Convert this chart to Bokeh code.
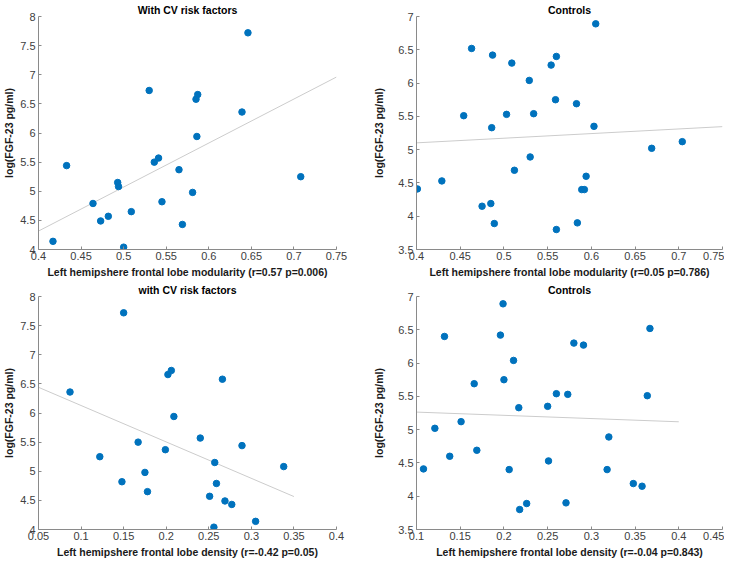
import numpy as np
from bokeh.plotting import figure
from bokeh.layouts import gridplot
from bokeh.models import Range1d, FixedTicker, CustomJSTickFormatter
from bokeh.embed import file_html
from bokeh.resources import INLINE

# ---- data: participants with CV risk factors ----
cv_fgf23 = [7.72, 6.73, 6.66, 6.58, 6.36, 5.94, 5.57, 5.50, 5.44, 5.37, 5.25,
            5.15, 5.08, 4.98, 4.82, 4.79, 4.65, 4.57, 4.49, 4.43, 4.14, 4.04]
cv_modularity = [0.646, 0.530, 0.587, 0.585, 0.639, 0.586, 0.541, 0.536, 0.433, 0.565, 0.708,
                 0.493, 0.494, 0.581, 0.545, 0.464, 0.509, 0.482, 0.473, 0.569, 0.417, 0.500]
cv_density = [0.150, 0.206, 0.202, 0.266, 0.087, 0.209, 0.240, 0.167, 0.289, 0.199, 0.122,
              0.257, 0.338, 0.175, 0.148, 0.259, 0.178, 0.251, 0.269, 0.277, 0.305, 0.256]

# ---- data: controls ----
ctrl_fgf23 = [6.89, 6.52, 6.42, 6.40, 6.30, 6.27, 6.04, 5.75, 5.69, 5.54, 5.53, 5.51, 5.35, 5.33,
              5.12, 5.02, 4.89, 4.69, 4.60, 4.53, 4.41, 4.40, 4.40, 4.19, 4.15, 3.90, 3.89, 3.80]
ctrl_modularity = [0.605, 0.463, 0.487, 0.560, 0.509, 0.554, 0.529, 0.559, 0.583, 0.534, 0.503, 0.454, 0.603, 0.486,
                   0.704, 0.669, 0.530, 0.512, 0.594, 0.429, 0.401, 0.589, 0.592, 0.485, 0.475, 0.584, 0.489, 0.560]
ctrl_density = [0.199, 0.367, 0.196, 0.132, 0.280, 0.291, 0.211, 0.200, 0.166, 0.260, 0.273, 0.364, 0.250, 0.217,
                0.151, 0.121, 0.320, 0.169, 0.138, 0.251, 0.108, 0.206, 0.318, 0.348, 0.358, 0.271, 0.226, 0.218]

# ---- fit line extents ----
fit_range_cv_mod = [0.40, 0.75]
fit_range_ctrl_mod = [0.40, 0.75]
fit_range_cv_dens = [0.05, 0.35]
fit_range_ctrl_dens = [0.10, 0.40]

# ---- ticks ----
ticks_mod = [0.40, 0.45, 0.50, 0.55, 0.60, 0.65, 0.70, 0.75]
ticks_cv_dens = [0.05, 0.10, 0.15, 0.20, 0.25, 0.30, 0.35, 0.40]
ticks_ctrl_dens = [0.10, 0.15, 0.20, 0.25, 0.30, 0.35, 0.40, 0.45]
ticks_cv_y = [4.0, 4.5, 5.0, 5.5, 6.0, 6.5, 7.0, 7.5, 8.0]
ticks_ctrl_y = [3.5, 4.0, 4.5, 5.0, 5.5, 6.0, 6.5, 7.0]

titles = ["With CV risk factors", "Controls", "with CV risk factors", "Controls"]
xlabels = ["Left hemipshere frontal lobe modularity (r=0.57 p=0.006)",
           "Left hemipshere frontal lobe modularity (r=0.05 p=0.786)",
           "Left hemipshere frontal lobe density (r=-0.42 p=0.05)",
           "Left hemipshere frontal lobe density (r=-0.04 p=0.843)"]
ylabel = "log(FGF-23 pg/ml)"

FONT = "Liberation Sans"
fmt = CustomJSTickFormatter(code="return tick.toFixed(2).replace(/0+$/, '').replace(/\\.$/, '');")


def panel(x, y, fit_range, xticks, yticks, title, xlabel, left_col):
    p = figure(width=362, height=280, output_backend="svg", toolbar_location=None,
               x_range=Range1d(xticks[0], xticks[-1]), y_range=Range1d(yticks[0], yticks[-1]),
               min_border_left=26 if left_col else 54, min_border_right=26 if left_col else 2,
               min_border_top=14, min_border_bottom=30)
    p.title.text = title
    p.title.align = "center"
    p.title.text_font = FONT
    p.title.text_font_size = "10.5px"
    p.title.text_font_style = "bold"
    p.title.text_color = "#000000"
    p.title.offset = 0
    p.title.standoff = 2
    p.grid.visible = False
    p.outline_line_color = None
    for ax in (p.xaxis[0], p.yaxis[0]):
        ax.axis_line_color = "#8a8a8a"
        ax.major_tick_line_color = "#8a8a8a"
        ax.major_tick_in = 3
        ax.major_tick_out = 0
        ax.minor_tick_line_color = None
        ax.major_label_text_font = FONT
        ax.major_label_text_font_size = "11px"
        ax.major_label_text_color = "#404040"
        ax.axis_label_text_font = FONT
        ax.axis_label_text_font_size = "10.5px"
        ax.axis_label_text_font_style = "bold"
        ax.axis_label_text_color = "#1a1a1a"
        ax.formatter = fmt
    p.xaxis[0].ticker = FixedTicker(ticks=xticks)
    p.yaxis[0].ticker = FixedTicker(ticks=yticks)
    p.xaxis[0].axis_label = xlabel
    p.yaxis[0].axis_label = ylabel
    p.xaxis[0].major_label_standoff = 2
    p.xaxis[0].axis_label_standoff = 3
    p.yaxis[0].major_label_standoff = 3
    p.yaxis[0].axis_label_standoff = 2 if left_col else 10

    slope, intercept = np.polyfit(np.array(x), np.array(y), 1)
    fx = np.array(fit_range)
    p.line(fx, slope * fx + intercept, line_color="#cccccc", line_width=1)
    p.scatter(x, y, size=6.5, fill_color="#0072BD", line_color="#0072BD")
    return p


p1 = panel(cv_modularity, cv_fgf23, fit_range_cv_mod, ticks_mod, ticks_cv_y, titles[0], xlabels[0], True)
p2 = panel(ctrl_modularity, ctrl_fgf23, fit_range_ctrl_mod, ticks_mod, ticks_ctrl_y, titles[1], xlabels[1], False)
p3 = panel(cv_density, cv_fgf23, fit_range_cv_dens, ticks_cv_dens, ticks_cv_y, titles[2], xlabels[2], True)
p4 = panel(ctrl_density, ctrl_fgf23, fit_range_ctrl_dens, ticks_ctrl_dens, ticks_ctrl_y, titles[3], xlabels[3], False)

grid = gridplot([[p1, p2], [p3, p4]], toolbar_location=None)
open("out.html", "w").write(file_html(grid, INLINE))
